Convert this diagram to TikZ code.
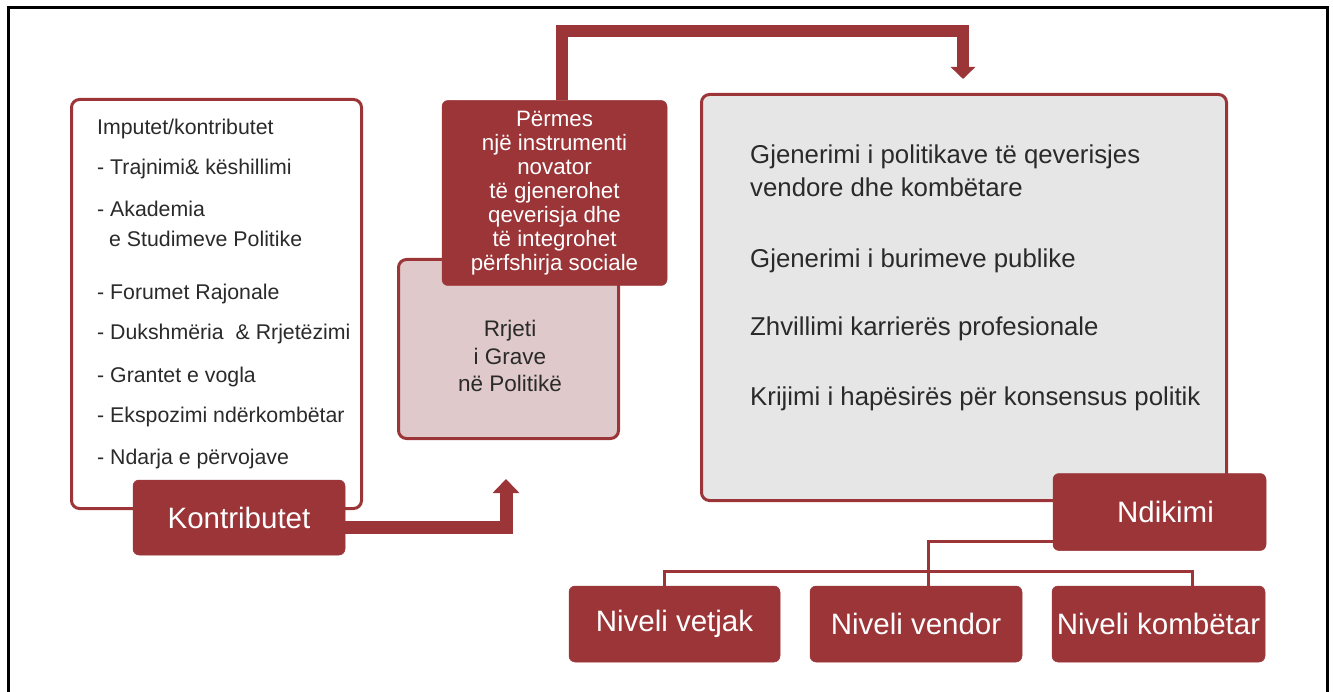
\documentclass[tikz,border=0pt]{standalone}
\usepackage{fontspec}
\setmainfont{Liberation Sans}
\usetikzlibrary{arrows.meta}
\definecolor{dred}{HTML}{9B3538}
\definecolor{pinkf}{HTML}{DFC9CA}
\definecolor{greyf}{HTML}{E6E6E6}
\definecolor{txt}{HTML}{2A2A2A}
\begin{document}
\begin{tikzpicture}[x=1pt,y=-1pt,
  redbox/.style={draw=dred, fill=dred, rounded corners=6pt, text=white, inner sep=0pt, line width=0.5pt},
  framebox/.style={draw=dred, line width=3pt, rounded corners=8pt, inner sep=0pt},
  listtxt/.style={anchor=base west, text=txt, font=\fontsize{21.3}{24}\selectfont, inner sep=0pt},
  bigtxt/.style={anchor=base west, text=txt, font=\fontsize{25.8}{30}\selectfont, inner sep=0pt},
  lvltxt/.style={font=\fontsize{29.5}{32}\selectfont},
  thickarrow/.style={draw=dred, line width=12pt, line join=miter},
  conn/.style={draw=dred, line width=3pt},
]
\useasboundingbox (0,0) rectangle (1333,692);
\draw[black, line width=3pt] (8,692) -- (8,8) -- (1327,8) -- (1327,692);

% left box
\node[framebox, fill=white, minimum width=290pt, minimum height=409pt] (leftbox) at (216.5,304) {};
\node[listtxt] (l0) at (97,135) {Imputet/kontributet};
\node[listtxt] (l1) at (97,175) {- Trajnimi\& këshillimi};
\node[listtxt] (l2) at (97,217) {- Akademia};
\node[listtxt] (l3) at (109,247) {e Studimeve Politike};
\node[listtxt] (l4) at (97,300) {- Forumet Rajonale};
\node[listtxt] (l5) at (97,340) {- Dukshmëria\ \ \& Rrjetëzimi};
\node[listtxt] (l6) at (97,382) {- Grantet e vogla};
\node[listtxt] (l7) at (97,422) {- Ekspozimi ndërkombëtar};
\node[listtxt] (l8) at (97,464) {- Ndarja e përvojave};
\node[redbox, minimum width=212pt, minimum height=75pt, lvltxt] (kontr) at (239,517.5) {Kontributet};

% middle
\node[framebox, fill=pinkf, minimum width=220pt, minimum height=179pt] (rrjeti) at (508.5,349) {};
\node[align=center, text=txt, inner sep=0pt, font=\fontsize{22.5}{27.5}\selectfont] (rrjetitxt) at (510,356) {Rrjeti\\i Grave\\në Politikë};
\node[redbox, minimum width=225pt, minimum height=185pt, align=center, font=\fontsize{22.3}{24}\selectfont] (permes) at (554.5,193) {Përmes\\një instrumenti\\novator\\të gjenerohet\\qeverisja dhe\\të integrohet\\përfshirja sociale};

% big box
\node[framebox, fill=greyf, minimum width=525pt, minimum height=406pt] (bigbox) at (964,297.5) {};
\node[bigtxt] (b1) at (750,164) {Gjenerimi i politikave të qeverisjes};
\node[bigtxt] (b2) at (750,197) {vendore dhe kombëtare};
\node[bigtxt] (b3) at (750,268) {Gjenerimi i burimeve publike};
\node[bigtxt] (b4) at (750,336) {Zhvillimi karrierës profesionale};
\node[bigtxt] (b5) at (750,406) {Krijimi i hapësirës për konsensus politik};

\node[redbox, minimum width=213pt, minimum height=77pt, lvltxt] (ndikimi) at (1159.5,512) {\hspace*{12pt}Ndikimi};

% levels
\node[redbox, minimum width=211pt, minimum height=76pt, lvltxt] (vetjak) at (674.5,624) {Niveli vetjak};
\node[redbox, minimum width=212pt, minimum height=76pt, lvltxt] (vendor) at (916,624) {Niveli vendor};
\node[redbox, minimum width=213pt, minimum height=76pt, lvltxt] (kombetar) at (1158.5,624) {Niveli kombëtar};

% connectors
\coordinate (tipA) at (506,479);
\draw[thickarrow, line width=13pt, -{Triangle[width=26pt,length=14pt]}] ([yshift=-9.5pt]kontr.east) -| (tipA);
\coordinate (topL) at (562,31);
\coordinate (tipB) at (963,79);
\draw[thickarrow, -{Triangle[width=24pt,length=12pt]}] (permes.north -| topL) -- (topL) -| (tipB);
\draw[conn] ([yshift=-29pt]ndikimi.west) -| ([xshift=12pt]vendor.north);
\draw[conn] ([xshift=-10.5pt]vetjak.north) -- ++(0,-14) -| ([xshift=33.5pt]kombetar.north);
\end{tikzpicture}
\end{document}
